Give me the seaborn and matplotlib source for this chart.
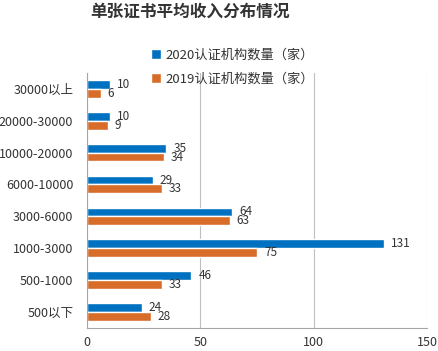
import matplotlib.pyplot as plt
import pandas as pd
import seaborn as sns

# Data
CATEGORIES = ['30000以上', '20000-30000', '10000-20000', '6000-10000',
              '3000-6000', '1000-3000', '500-1000', '500以下']
SERIES = ['2020认证机构数量（家）', '2019认证机构数量（家）']
VALUES_2020 = [10, 10, 35, 29, 64, 131, 46, 24]
VALUES_2019 = [6, 9, 34, 33, 63, 75, 33, 28]
X_TICKS = [0, 50, 100, 150]

COLORS = ['#0070C0', '#D86D2A']


def build_frame():
    rows = []
    for name, vals in zip(SERIES, [VALUES_2020, VALUES_2019]):
        for cat, v in zip(CATEGORIES, vals):
            rows.append({'Range': cat, 'Series': name, 'Count': v})
    return pd.DataFrame(rows)


def main():
    df = build_frame()

    sns.set_style("white")
    plt.rcParams['font.family'] = ['Noto Sans CJK SC', 'DejaVu Sans']

    fig = plt.figure(figsize=(4.38, 3.51), dpi=100)
    ax = fig.add_axes([0.199, 0.066, 0.776, 0.726])

    sns.barplot(data=df, y='Range', x='Count', hue='Series', order=CATEGORIES,
                hue_order=SERIES, palette=COLORS, orient='h', width=0.55,
                gap=0, saturation=1, ax=ax, legend=True)

    for cont in ax.containers:
        ax.bar_label(cont, padding=5, fontsize=8.5, color='#333333')

    ax.set_xlim(0, 150)
    ax.set_xticks(X_TICKS)
    ax.set_xlabel('')
    ax.set_ylabel('')
    ax.grid(axis='x', color='#BFBFBF', linewidth=0.8)
    ax.set_axisbelow(True)
    for side in ['top', 'right']:
        ax.spines[side].set_visible(False)
    for side in ['left', 'bottom']:
        ax.spines[side].set_color('#A6A6A6')
        ax.spines[side].set_linewidth(0.8)

    # tick marks between categories on the y axis
    ax.set_yticks([i + 0.5 for i in range(-1, len(CATEGORIES))], minor=True)
    ax.tick_params(axis='y', which='minor', length=4, color='#A6A6A6', width=0.8)
    ax.tick_params(axis='y', which='major', length=0, pad=10, labelsize=9,
                   labelcolor='#333333')
    ax.tick_params(axis='x', length=0, pad=6, labelsize=9, labelcolor='#333333')

    handles, labels = ax.get_legend_handles_labels()
    ax.legend_.remove()
    fig.legend(handles, labels, loc='upper left', bbox_to_anchor=(0.318, 0.895),
               frameon=False, fontsize=9.5, handlelength=0.75, handleheight=0.75,
               handletextpad=0.3, labelspacing=0.8, labelcolor='#333333')

    fig.text(0.433, 0.966, '单张证书平均收入分布情况', ha='center', va='center',
             fontsize=12, fontweight='bold', color='#333333')

    fig.savefig('out.png', dpi=100)


if __name__ == "__main__":
    main()
